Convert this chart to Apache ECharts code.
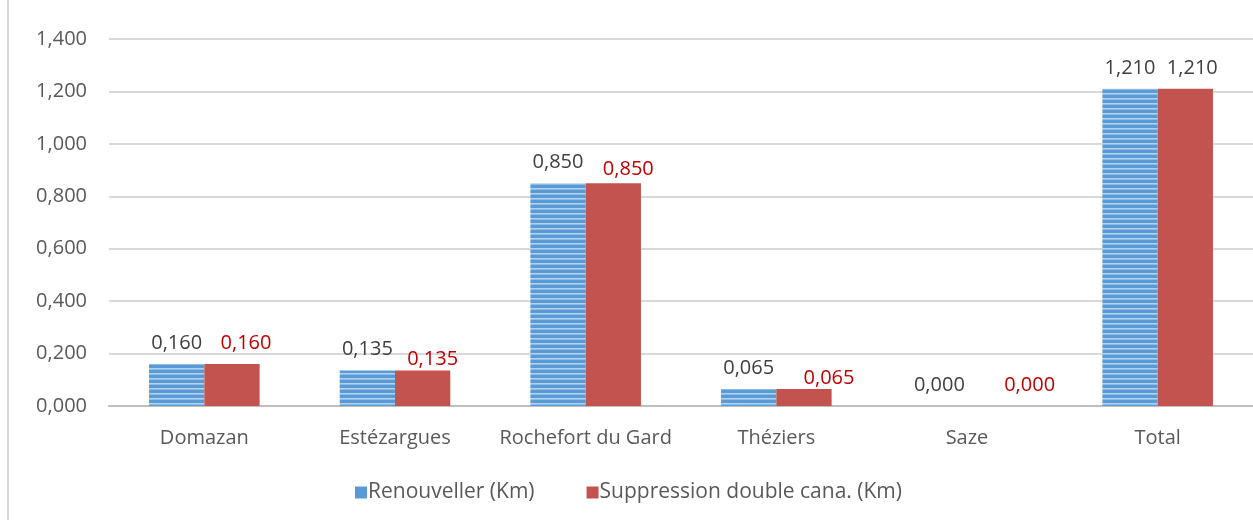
<!DOCTYPE html>
<html><head><meta charset="utf-8">
<script src="https://cdn.jsdelivr.net/npm/echarts@6/dist/echarts.min.js"></script>
<style>html,body{margin:0;padding:0;background:#fff}#c{width:1253px;height:522px}</style>
</head><body><div id="c"></div>
<script>
const categories = ['Domazan', 'Estézargues', 'Rochefort du Gard', 'Théziers', 'Saze', 'Total'];
const renouveller = [0.160, 0.135, 0.850, 0.065, 0.000, 1.210];
const suppression = [0.160, 0.135, 0.850, 0.065, 0.000, 1.210];
const seriesNames = ['Renouveller (Km)', 'Suppression double cana. (Km)'];

const FONT = 'Open Sans';
const TXT = '#595959';
const FS = 20;

// striped blue pattern
const pc = document.createElement('canvas');
pc.width = 5; pc.height = 5;
const g = pc.getContext('2d');
g.fillStyle = '#5b9bd5'; g.fillRect(0, 0, 5, 5);
g.fillStyle = '#b2d2f2'; g.fillRect(0, 3, 5, 1);
g.fillStyle = '#8dbbe8'; g.fillRect(0, 4, 5, 1);
const stripe = { image: pc, repeat: 'repeat' };

const fmt = v => v.toFixed(3).replace('.', ',');
const redOffsets = [[14, 0], [10, 10], [15, 7], [25, 10], [35, 0], [7, 0]];
const redColors = ['#c00000', '#c00000', '#c00000', '#c00000', '#c00000', '#404040'];

const chart = echarts.init(document.getElementById('c'));
chart.setOption({
  animation: false,
  textStyle: { fontFamily: FONT },
  graphic: [{ type: 'line', shape: { x1: 8, y1: 0, x2: 8, y2: 520 }, style: { stroke: '#d9d9d9', lineWidth: 2 } }],
  legend: {
    data: [{ name: seriesNames[0], itemStyle: { color: '#5b9bd5' } }, { name: seriesNames[1] }],
    bottom: 14, left: 350, itemWidth: 12, itemHeight: 12, itemGap: 52,
    icon: 'rect',
    textStyle: { color: TXT, fontSize: 21, fontFamily: FONT, padding: [0, 0, 0, -4] }
  },
  grid: { left: 109, right: -6, top: 39, bottom: 116 },
  xAxis: {
    type: 'category', data: categories,
    axisLine: { lineStyle: { color: '#bfbfbf', width: 2 } },
    axisTick: { show: false },
    axisLabel: { color: TXT, fontSize: FS, margin: 22, fontFamily: FONT, interval: 0 }
  },
  yAxis: {
    type: 'value', min: 0, max: 1.4, interval: 0.2,
    axisLabel: { color: TXT, fontSize: FS, margin: 22, fontFamily: FONT, formatter: v => fmt(v) },
    splitLine: { lineStyle: { color: '#d9d9d9', width: 2 } },
    axisLine: { show: false }, axisTick: { show: false }
  },
  series: [
    {
      name: seriesNames[0], type: 'bar', barWidth: '29%', barGap: '0%',
      itemStyle: { color: stripe },
      label: { show: true, position: 'top', distance: 11, color: '#404040', fontSize: FS, fontFamily: FONT, formatter: p => fmt(p.value) },
      data: renouveller
    },
    {
      name: seriesNames[1], type: 'bar', barWidth: '29%',
      itemStyle: { color: '#c3534f' },
      label: { show: true, position: 'top', distance: 11, fontSize: FS, fontFamily: FONT, formatter: p => fmt(p.value) },
      data: suppression.map((v, i) => ({ value: v, label: { offset: redOffsets[i], color: redColors[i] } }))
    }
  ]
});
</script></body></html>
